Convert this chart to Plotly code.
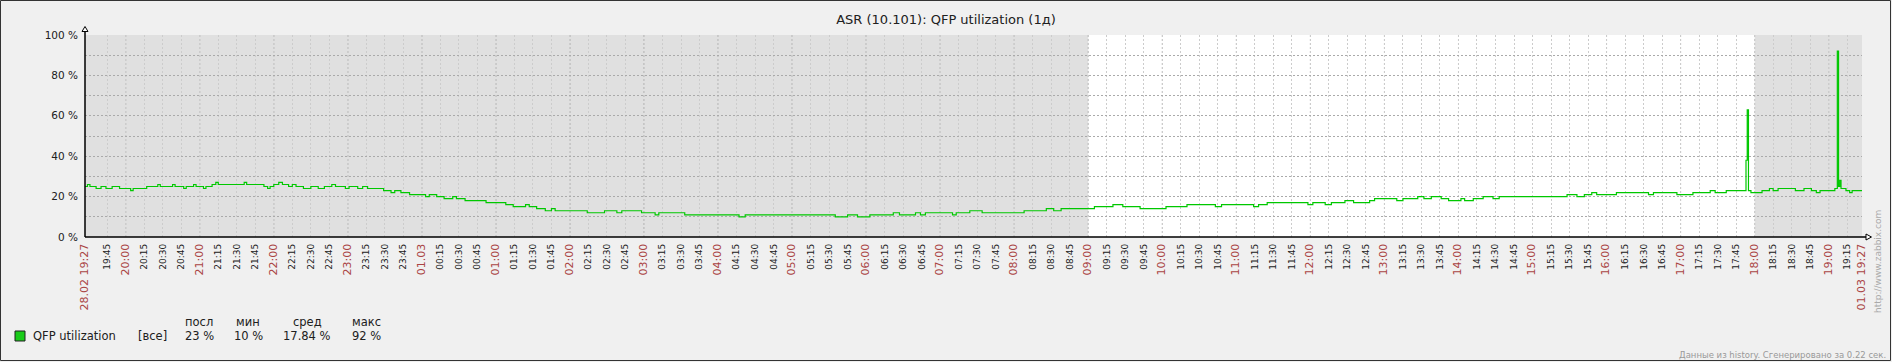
import plotly.graph_objects as go
from datetime import datetime, timedelta

# ---------------- data ----------------
title_text = "ASR (10.101): QFP utilization (1д)"
series_name = "QFP utilization"

times = [
    "19:27", "19:29", "19:31", "19:36", "19:40", "19:44", "19:49", "19:55", "20:04", "20:06",
    "20:12", "20:17", "20:26", "20:28", "20:38", "20:40", "20:47", "20:49", "20:55", "20:57",
    "21:03", "21:05", "21:10", "21:13", "21:15", "21:22", "21:36", "21:38", "21:52", "21:55",
    "21:57", "22:00", "22:04", "22:07", "22:12", "22:15", "22:18", "22:24", "22:30", "22:36",
    "22:41", "22:47", "22:50", "22:58", "23:01", "23:08", "23:12", "23:16", "23:24", "23:29",
    "23:35", "23:38", "23:43", "23:50", "23:58", "00:03", "00:06", "00:12", "00:18", "00:25",
    "00:28", "00:35", "00:43", "00:52", "01:02", "01:08", "01:14", "01:24", "01:27", "01:33",
    "01:40", "01:45", "01:48", "02:10", "02:14", "02:25", "02:28", "02:38", "02:42", "02:58",
    "03:09", "03:12", "03:33", "04:17", "04:22", "04:45", "05:35", "05:45", "05:53", "06:03",
    "06:22", "06:27", "06:40", "06:44", "06:48", "07:10", "07:13", "07:24", "07:34", "08:08",
    "08:26", "08:32", "08:38", "09:05", "09:20", "09:28", "09:42", "10:03", "10:20", "10:43",
    "10:48", "11:14", "11:18", "11:25", "11:58", "12:02", "12:12", "12:17", "12:28", "12:35",
    "12:48", "12:52", "13:10", "13:15", "13:27", "13:32", "13:38", "13:46", "13:52", "14:02",
    "14:05", "14:12", "14:20", "14:28", "14:33", "15:28", "15:36", "15:42", "15:48", "15:52",
    "16:08", "16:34", "16:38", "16:57", "17:10", "17:24", "17:28", "17:37", "17:53", "17:54",
    "17:55", "17:57", "18:06", "18:12", "18:15", "18:19", "18:30", "18:33", "18:40", "18:46",
    "18:50", "18:53", "19:05", "19:07", "19:08", "19:09", "19:10", "19:14", "19:17", "19:19",
    "19:27",
]
values = [
    25, 26, 25, 24, 25, 24, 25, 24, 23, 24,
    24, 25, 26, 25, 26, 25, 24, 25, 26, 25,
    24, 25, 26, 27, 26, 26, 27, 26, 25, 24,
    25, 26, 27, 26, 25, 26, 25, 24, 25, 24,
    25, 26, 25, 24, 25, 24, 25, 24, 24, 23,
    22, 23, 22, 21, 21, 20, 21, 20, 19, 20,
    19, 18, 18, 17, 17, 16, 15, 16, 15, 14,
    13, 14, 13, 13, 12, 12, 13, 12, 13, 12,
    11, 12, 11, 10, 11, 11, 10, 11, 10, 11,
    12, 11, 12, 11, 12, 11, 12, 13, 12, 13,
    14, 13, 14, 15, 16, 15, 14, 15, 16, 15,
    16, 15, 16, 17, 16, 17, 16, 17, 18, 17,
    18, 19, 18, 19, 20, 19, 20, 19, 18, 19,
    18, 19, 20, 19, 20, 21, 20, 21, 22, 21,
    22, 21, 22, 21, 22, 23, 22, 23, 38, 63,
    23, 22, 23, 24, 23, 24, 24, 23, 24, 23,
    22, 23, 24, 92, 25, 28, 24, 23, 22, 23,
    23,
]

period_start = "2014-02-28 19:27"
period_hours = 24
start_label = "28.02 19:27"
end_label = "01.03 19:27"
midnight_label = "01.03"
work_start = "09:00"
work_end = "18:00"

y_ticks = [0, 10, 20, 30, 40, 50, 60, 70, 80, 90, 100]
y_labels = ["0 %", "", "20 %", "", "40 %", "", "60 %", "", "80 %", "", "100 %"]

legend_headers = ["посл", "мин", "сред", "макс"]
legend_values = ["23 %", "10 %", "17.84 %", "92 %"]
legend_scope = "[все]"
footer_text = "Данные из history. Сгенерировано за 0.22 сек."
watermark_text = "http://www.zabbix.com"

# ---------------- styling ----------------
FONT = "DejaVu Sans"
BG = "#F0F0F0"
NONWORK = "#E0E0E0"
GRID = "#CCCCCC"
MAINGRID = "#AAAAAA"
TEXT = "#202020"
HIGHLIGHT = "#AA4444"
LINE = "#00C800"

W, H = 1892, 362
L, R, T, B = 85, 1862, 35, 237


def xp(px):
    return (px - L) / (R - L)


def yp(py):
    return (B - py) / (B - T)


# ---------------- build time axis ----------------
t0 = datetime.strptime(period_start, "%Y-%m-%d %H:%M")
t1 = t0 + timedelta(hours=period_hours)


def to_dt(hhmm_list):
    out = []
    day = t0.date()
    prev = None
    for s in hhmm_list:
        hh, mm = map(int, s.split(":"))
        cand = datetime(day.year, day.month, day.day, hh, mm)
        if prev is not None and cand < prev:
            day = day + timedelta(days=1)
            cand = datetime(day.year, day.month, day.day, hh, mm)
        out.append(cand)
        prev = cand
    return out


x_vals = to_dt(times)


def at_time(hhmm, after):
    hh, mm = map(int, hhmm.split(":"))
    c = datetime(after.year, after.month, after.day, hh, mm)
    if c < after:
        c += timedelta(days=1)
    return c


ws = at_time(work_start, t0)
we = at_time(work_end, ws)

# ticks every 15 minutes
first = t0.replace(minute=0) + timedelta(minutes=15)
while first < t0 + timedelta(minutes=10):
    first += timedelta(minutes=15)
tick_vals = [t0]
tick_text = ["<span style='color:%s;font-size:11px'>%s</span>" % (HIGHLIGHT, start_label)]
hour_lines = []
t = first
while t < t1 - timedelta(minutes=10):
    tick_vals.append(t)
    if t.hour == 0 and t.minute == 0:
        tick_text.append("<span style='color:%s;font-size:11px'>%s</span>" % (HIGHLIGHT, midnight_label))
        hour_lines.append(t)
    elif t.minute == 0:
        tick_text.append("<span style='color:%s;font-size:11px'>%s</span>" % (HIGHLIGHT, t.strftime("%H:%M")))
        hour_lines.append(t)
    else:
        tick_text.append(t.strftime("%H:%M"))
    t += timedelta(minutes=15)
tick_vals.append(t1)
tick_text.append("<span style='color:%s;font-size:11px'>%s</span>" % (HIGHLIGHT, end_label))

fig = go.Figure()
fig.add_trace(go.Scatter(
    x=x_vals, y=values, mode="lines", line=dict(color=LINE, width=1.2, shape="hv"),
    name=series_name, showlegend=False, hoverinfo="skip",
))

shapes = []
# non-working time
shapes.append(dict(type="rect", xref="x", yref="paper", x0=t0, x1=ws, y0=0, y1=1,
                   fillcolor=NONWORK, line=dict(width=0), layer="below"))
shapes.append(dict(type="rect", xref="x", yref="paper", x0=we, x1=t1, y0=0, y1=1,
                   fillcolor=NONWORK, line=dict(width=0), layer="below"))
# hour grid lines
for h in hour_lines:
    shapes.append(dict(type="line", xref="x", yref="paper", x0=h, x1=h, y0=0, y1=1,
                       line=dict(color=MAINGRID, width=1, dash="2px,2px"), layer="between"))
# axes with arrows
shapes.append(dict(type="line", xref="paper", yref="paper", x0=0, x1=0, y0=0, y1=yp(29),
                   line=dict(color="#000000", width=1.5), layer="above"))
shapes.append(dict(type="line", xref="paper", yref="paper", x0=0, x1=xp(1867), y0=0, y1=0,
                   line=dict(color="#000000", width=1.5), layer="above"))
shapes.append(dict(type="path", xref="paper", yref="paper",
                   path="M %f,%f L %f,%f L %f,%f Z" % (xp(82), yp(31.5), xp(85), yp(26.5), xp(88), yp(31.5)),
                   fillcolor="#FFFFFF", line=dict(color="#000000", width=1), layer="above"))
shapes.append(dict(type="path", xref="paper", yref="paper",
                   path="M %f,%f L %f,%f L %f,%f Z" % (xp(1866), yp(234), xp(1871.5), yp(237), xp(1866), yp(240)),
                   fillcolor="#FFFFFF", line=dict(color="#000000", width=1), layer="above"))
# legend swatch
shapes.append(dict(type="rect", xref="paper", yref="paper",
                   x0=xp(15), x1=xp(25), y0=yp(341), y1=yp(331),
                   fillcolor="#1ACC1A", line=dict(color=TEXT, width=1), layer="above"))
# outer frame
shapes.append(dict(type="rect", xref="paper", yref="paper",
                   x0=xp(0.5), x1=xp(1890.5), y0=yp(360.5), y1=yp(0.5),
                   line=dict(color="#333333", width=1), fillcolor="rgba(0,0,0,0)", layer="above"))

annotations = []


def txt(text, x, y, xanchor="left", size=11.5, color=TEXT, angle=0):
    annotations.append(dict(text=text, xref="paper", yref="paper", x=xp(x), y=yp(y),
                            xanchor=xanchor, yanchor="middle", showarrow=False, textangle=angle,
                            font=dict(family=FONT, size=size, color=color)))


txt(series_name, 31, 336)
txt(legend_scope, 152, 336, xanchor="center")
col_x = [199, 248, 307, 366]
for cx, hd, vv in zip(col_x, legend_headers, legend_values):
    txt(hd, cx, 322, xanchor="center")
    txt(vv, cx, 336, xanchor="center")
txt(footer_text, 1888, 355, xanchor="right", size=8.5, color="#999999")
annotations.append(dict(text=watermark_text, xref="paper", yref="paper", x=xp(1878), y=yp(262),
                        xanchor="center", yanchor="middle", showarrow=False, textangle=-90,
                        font=dict(family=FONT, size=9, color="#AAAAAA")))

fig.update_layout(
    width=W, height=H,
    margin=dict(l=L, r=W - R, t=T, b=H - B, autoexpand=False),
    paper_bgcolor=BG, plot_bgcolor="#FFFFFF",
    font=dict(family=FONT, color=TEXT),
    title=dict(text=title_text, x=0.5, xref="container", xanchor="center",
               y=1 - 19 / H, yref="container", yanchor="middle",
               font=dict(family=FONT, size=13, color=TEXT)),
    shapes=shapes, annotations=annotations,
    showlegend=False,
    xaxis=dict(range=[t0, t1], tickmode="array", tickvals=tick_vals, ticktext=tick_text,
               tickangle=-90, tickfont=dict(family=FONT, size=9, color=TEXT),
               showgrid=True, gridcolor=GRID, griddash="2px,2px", gridwidth=1,
               showline=False, zeroline=False, ticks="", ticklabelstandoff=4, fixedrange=True),
    yaxis=dict(range=[0, 100], tickmode="array", tickvals=y_ticks, ticktext=y_labels,
               tickfont=dict(family=FONT, size=10.5, color=TEXT),
               showgrid=True, gridcolor=MAINGRID, griddash="2px,2px", gridwidth=1,
               showline=False, zeroline=False, ticks="", ticklabelstandoff=6, fixedrange=True),
)

fig.write_html(
    "out.html",
    config={"displayModeBar": False},
    post_script="document.body.style.margin='0';document.body.style.padding='0';"
                "document.body.style.overflow='hidden';"
                "document.documentElement.style.overflow='hidden';",
)
